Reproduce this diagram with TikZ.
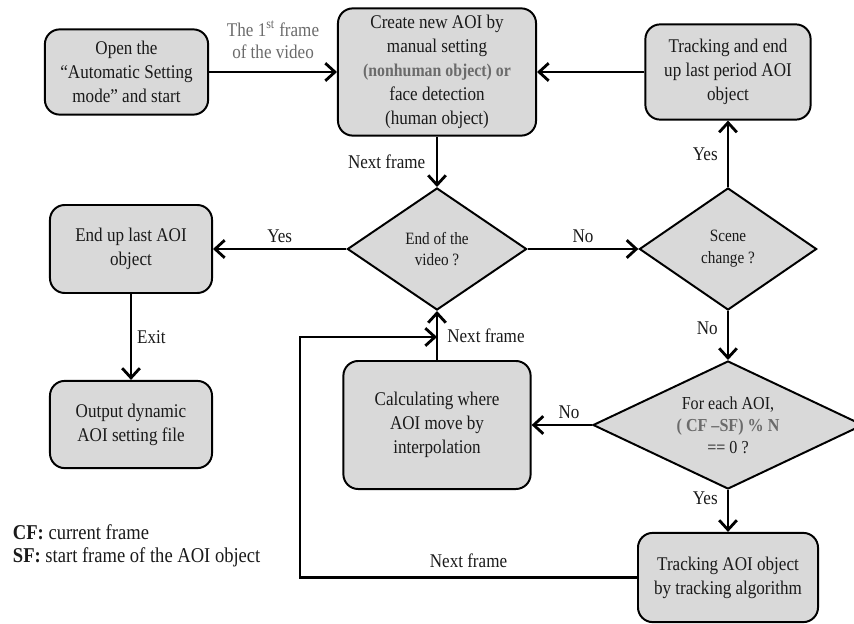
\documentclass[tikz,border=0pt]{standalone}
\usepackage{fontspec}
\setmainfont{Liberation Serif}[FakeStretch=0.88]
\usetikzlibrary{shapes.geometric,arrows.meta}
\definecolor{boxgray}{HTML}{D9D9D9}
\definecolor{inkgray}{HTML}{1A1A1A}
\definecolor{notegray}{HTML}{6B6B6B}
\newcommand{\boxfill}{boxgray}
\newcommand{\borderwidth}{1.4pt}
\newcommand{\linkwidth}{2pt}

\tikzset{
  procbox/.style={rectangle, rounded corners=0.37cm, draw, line width=\borderwidth,
    fill=\boxfill, align=center, text=inkgray, font=\fontsize{13.8}{17}\selectfont, inner sep=2pt},
  decision/.style={diamond, draw, line width=\borderwidth, fill=\boxfill,
    align=center, text=inkgray, inner sep=0pt, aspect=1.5},
  flow/.style={line width=\linkwidth, -{Straight Barb[length=2.4mm,width=4.4mm,line width=2pt]}},
  lbl/.style={text=inkgray, font=\fontsize{13.8}{16}\selectfont},
}

\begin{document}
\begin{tikzpicture}[x=0.025cm, y=-0.025cm]
\useasboundingbox (0,0) rectangle (854,624);
%boxes
\node[procbox] (open) at (126.5,72) [minimum width=4.08cm, minimum height=2.13cm] {Open the\\``Automatic Setting\\mode'' and start};
\node[procbox] (create) at (437,72) [minimum width=4.95cm, minimum height=3.18cm] {Create new AOI by\\manual setting\\{\color{notegray}\bfseries\fontsize{12.8}{17}\selectfont (nonhuman object) or}\\face detection\\(human object)};
\node[procbox] (trackend) at (728,72) [minimum width=4.13cm, minimum height=2.38cm] {Tracking and end\\up last period AOI\\object};
\node[procbox] (endup) at (131,249) [minimum width=4.05cm, minimum height=2.2cm] {End up last AOI\\object};
\node[procbox] (output) at (131,424.5) [minimum width=4.05cm, minimum height=2.18cm] {Output dynamic\\AOI setting file};
\node[procbox] (interp) at (437,425) [minimum width=4.68cm, minimum height=3.2cm] {Calculating where\\AOI move by\\interpolation};
\node[procbox] (track) at (728,577.5) [minimum width=4.5cm, minimum height=2.23cm] {Tracking AOI object\\by tracking algorithm};
%decisions
\node[decision] (video) at (437,249) [minimum width=4.48cm, minimum height=3.05cm, font=\fontsize{12.3}{15.5}\selectfont] {End of the\\video ?};
\node[decision] (scene) at (728,249) [minimum width=4.43cm, minimum height=3.05cm, font=\fontsize{12.3}{15.5}\selectfont] {Scene\\change ?};
\node[decision] (check) at (728,425) [minimum width=6.75cm, minimum height=3.2cm, font=\fontsize{13}{15.5}\selectfont] {For each AOI,\\{\color{notegray}\bfseries ( CF --SF) \% N}\\== 0 ?};
%loop back
\coordinate (corner) at (300,337);
\coordinate (join) at (437,337);
%links
\draw[flow] (open) -- node[above=5pt, align=center, text=notegray, font=\fontsize{13.8}{16}\selectfont] (first) {The 1\textsuperscript{st} frame\\of the video} (create);
\draw[flow] (trackend) -- (create);
\draw[flow] (create) -- node[left=4pt, lbl] (nf1) {Next frame} (video);
\draw[flow] (video) -- node[above, lbl] (yes1) {Yes} (endup);
\draw[flow] (video) -- node[above, lbl] (no1) {No} (scene);
\draw[flow] (scene) -- node[left=3pt, lbl] (yes2) {Yes} (trackend);
\draw[flow] (scene) -- node[left=3pt, lbl, pos=0.35] (no2) {No} (check);
\draw[flow] (endup) -- node[right, lbl] (exit) {Exit} (output);
\draw[flow] (check) -- node[above, lbl, pos=0.38] (no3) {No} (interp);
\draw[flow] (interp) -- node[right=3pt, lbl] (nf2) {Next frame} (video);
\draw[flow] (check) -- node[left=3pt, lbl, pos=0.2] (yes3) {Yes} (track);
\draw[flow] (track.west) -- node[above=3pt, lbl] (nf3) {Next frame} (track.west -| corner) -- (corner) -- (join);
%legend
\node[anchor=north west, align=left, lbl, font=\fontsize{15}{16}\selectfont] (legend) at (8,520) {\textbf{CF:} current frame\\\textbf{SF:} start frame of the AOI object};
\end{tikzpicture}
\end{document}
